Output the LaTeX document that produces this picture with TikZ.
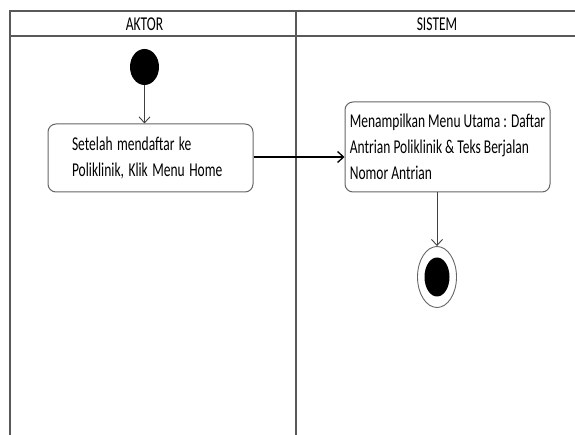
\documentclass[tikz,border=0pt]{standalone}
\usepackage{fontspec}
\setmainfont{Carlito}
\usetikzlibrary{arrows.meta,shapes.geometric}

\newcommand{\tall}[1]{\scalebox{1}[1.45]{#1}}

\tikzset{
  adlane/.style={draw=black!65, line width=1.2pt},
  adhead/.style={font=\fontsize{13.5}{26}\selectfont, text=black, inner sep=0pt},
  adaction/.style={draw=black!60, line width=1pt, rounded corners=8pt, fill=white,
    align=left, font=\fontsize{13.5}{26}\selectfont, text=black, inner xsep=4pt},
  adstart/.style={ellipse, fill=black, inner sep=0pt, minimum width=29pt, minimum height=36pt},
  adend/.style={ellipse, draw=black!60, line width=.9pt, fill=white, inner sep=0pt,
    minimum width=39pt, minimum height=61pt},
  adendin/.style={ellipse, fill=black, inner sep=0pt, minimum width=25pt, minimum height=39pt},
  adedge/.style={draw=black!75, line width=.9pt, -{Straight Barb[length=6pt,width=11pt]}}
}

\begin{document}
\begin{tikzpicture}[x=1pt, y=-1pt]
\useasboundingbox (0,0) rectangle (575,435);

% swimlanes
\draw[adlane] (575,11) -- (10,11) -- (10,435);
\draw[adlane] (10,36) -- (575,36);
\draw[adlane] (296,11) -- (296,435);
\node[adhead] (aktor) at (144.5,24) {\tall{AKTOR}};
\node[adhead] (sistem) at (437,24) {\tall{SISTEM}};

\node[adstart] (mulai) at (144.5,67) {};

\node[adaction, text width=157pt, minimum width=205pt, minimum height=68pt] (home) at (150.5,158)
  {\tall{Setelah mendaftar ke}\\\tall{Poliklinik, Klik Menu Home}};

\node[adaction, minimum width=205pt, minimum height=90pt] (menu) at (447.5,147)
  {\tall{Menampilkan Menu Utama : Daftar}\\\tall{Antrian Poliklinik \& Teks Berjalan}\\\tall{Nomor Antrian}};

\node[adend] (selesai) at (437,277) {};
\node[adendin] (selesaiin) at (selesai) {};

\draw[adedge] (mulai) -- (mulai |- home.north);
\draw[adedge, draw=black, line width=1.3pt] (home.east |- 0,157) -- (menu.west |- 0,157);
\draw[adedge] (selesai |- menu.south) -- (selesai.north);
\end{tikzpicture}
\end{document}
